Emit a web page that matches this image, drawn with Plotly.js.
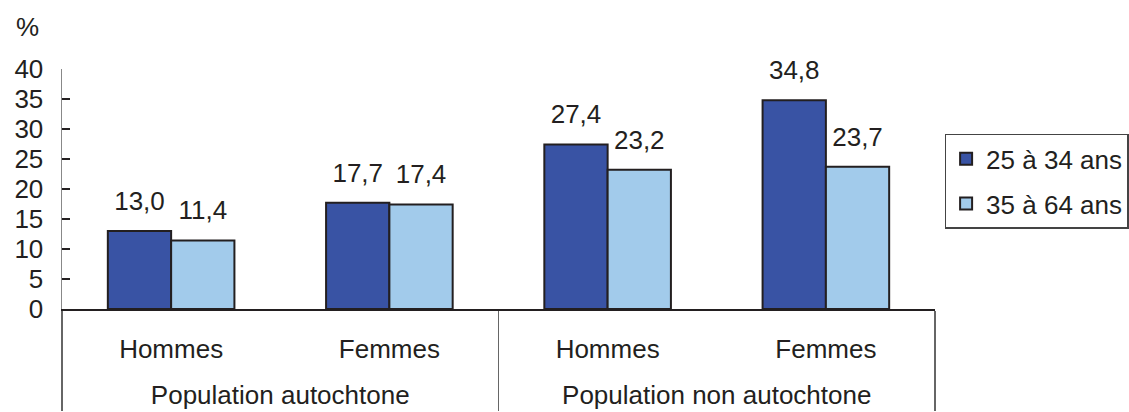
<!DOCTYPE html>
<html>
<head>
<meta charset="utf-8">
<script src="https://cdn.plot.ly/plotly-3.0.1.min.js"></script>
<style>html,body{margin:0;padding:0;background:#fff;}#chart{width:1129px;height:412px;}</style>
</head>
<body>
<div id="chart"></div>
<script>
const groups = ["Population autochtone", "Population autochtone", "Population non autochtone", "Population non autochtone"];
const sexes = ["Hommes", "Femmes", "Hommes", "Femmes"];
const series1Name = "25 à 34 ans";
const series1 = [13.0, 17.7, 27.4, 34.8];
const series2Name = "35 à 64 ans";
const series2 = [11.4, 17.4, 23.2, 23.7];
const yTicks = [0, 5, 10, 15, 20, 25, 30, 35, 40];

const FONT = "Liberation Sans, Arial, sans-serif";
const TXT = "#231f20";
const FS = 26;

const sexLabels = sexes.map(s => s + "<br><span style='font-size:16px'> </span>");

function barTrace(name, values, color) {
  return {
    type: "bar",
    name: name,
    legendgroup: name,
    x: [groups, sexLabels],
    y: values,
    marker: {color: color, line: {color: "#231f20", width: 2}},
    texttemplate: "<span style='font-size:" + FS + "px'>%{y:.1f}</span><br><span style='font-size:2px'> </span>",
    textposition: "outside",
    constraintext: "none",
    cliponaxis: false,
    textfont: {family: FONT, size: 14, color: TXT},
    hoverinfo: "skip"
  };
}

const data = [
  barTrace(series1Name, series1, "#3953a4"),
  barTrace(series2Name, series2, "#a2cbeb")
];

const layout = {
  width: 1129, height: 412,
  margin: {l: 62, r: 194, t: 69, b: 103, autoexpand: false},
  paper_bgcolor: "#fff", plot_bgcolor: "#fff",
  separators: ", ",
  font: {family: FONT, size: FS, color: TXT},
  barmode: "group",
  bargap: 0.42,
  bargroupgap: 0,
  showlegend: true,
  legend: {
    x: 1.011, xanchor: "left", y: 0.73, yanchor: "top",
    bordercolor: "#444", borderwidth: 1.5,
    font: {family: FONT, size: FS, color: TXT},
    tracegroupgap: 8, itemsizing: "constant"
  },
  xaxis: {
    type: "multicategory",
    showline: true, linecolor: "#231f20", linewidth: 1.5,
    ticks: "", showgrid: false, zeroline: false,
    showdividers: true, dividercolor: "#666", dividerwidth: 1.5,
    tickfont: {family: FONT, size: FS, color: TXT},
    ticklabelstandoff: 16
  },
  yaxis: {
    range: [0, 40],
    tickvals: yTicks, ticktext: yTicks.map(String),
    ticks: "inside", ticklen: 8, tickcolor: "#231f20", tickwidth: 1.2,
    showline: true, linecolor: "#888", linewidth: 1.5,
    showgrid: false, zeroline: false,
    tickfont: {family: FONT, size: FS, color: TXT},
    ticklabelstandoff: 12
  },
  annotations: [{
    text: "%", xref: "paper", yref: "paper", x: -0.04, y: 1.175,
    xanchor: "center", yanchor: "middle", showarrow: false,
    font: {family: FONT, size: FS, color: TXT}
  }]
};

Plotly.newPlot("chart", data, layout, {displayModeBar: false, staticPlot: true});
</script>
</body>
</html>
